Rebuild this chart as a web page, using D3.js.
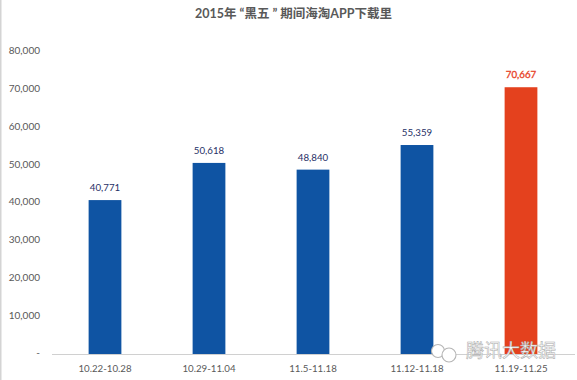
<!DOCTYPE html>
<html>
<head>
<meta charset="utf-8">
<script src="https://cdn.jsdelivr.net/npm/d3@7/dist/d3.min.js"></script>
<style>
  html, body { margin: 0; padding: 0; background: #fff; }
  svg { display: block; }
  text { font-family: Lato, "Noto Sans CJK SC", sans-serif; }
</style>
</head>
<body>
<script>
  var categories = ['10.22-10.28', '10.29-11.04', '11.5-11.18', '11.12-11.18', '11.19-11.25'];
  var values = [40771, 50618, 48840, 55359, 70667];
  var yTicks = [0, 10000, 20000, 30000, 40000, 50000, 60000, 70000, 80000];
  var titleText = '2015年 “黑五 ” 期间海淘APP下载里';
  var watermarkText = '腾讯大数据';

  var width = 577, height = 380;
  var svg = d3.select('body').append('svg').attr('width', width).attr('height', height);

  // grey edge on the left of the screenshot
  svg.append('rect').attr('x', 0).attr('y', 0).attr('width', 1.5).attr('height', height).attr('fill', '#d4d4d4');

  var x = d3.scaleBand().domain(categories).range([53, 573]).paddingInner(0.685).paddingOuter(0.3425);
  var y = d3.scaleLinear().domain([0, 80000]).range([354, 52]);

  svg.append('text')
    .attr('x', 293.5).attr('y', 18)
    .attr('text-anchor', 'middle')
    .attr('font-size', 12.5).attr('font-weight', 'bold').attr('fill', '#595959')
    .text(titleText);

  // y axis, no line, "-" for zero
  var yAxis = d3.axisLeft(y).tickValues(yTicks).tickSize(0).tickPadding(0)
    .tickFormat(function (d) { return d === 0 ? '-' : d3.format(',')(d); });
  var gy = svg.append('g').attr('transform', 'translate(40,-1.3)').call(yAxis);
  gy.select('.domain').remove();
  gy.selectAll('text').attr('font-size', 10).attr('fill', '#595959').style('font-family', 'Lato, sans-serif');

  svg.selectAll('rect.bar').data(values).enter().append('rect')
    .attr('class', 'bar')
    .attr('x', function (d, i) { return x(categories[i]); })
    .attr('y', function (d) { return y(d); })
    .attr('width', x.bandwidth())
    .attr('height', function (d) { return y(0) - y(d); })
    .attr('fill', function (d, i) { return i === 4 ? '#e4411e' : '#0f54a3'; });

  var xAxis = d3.axisBottom(x).tickSize(0).tickPadding(11.5);
  var gx = svg.append('g').attr('transform', 'translate(0,354)').call(xAxis);
  gx.select('.domain').attr('stroke', '#d0d0d0').attr('d', 'M52,0.5H575');
  gx.selectAll('text').attr('font-size', 9.7).attr('fill', '#595959').style('font-family', 'Lato, sans-serif');

  svg.selectAll('text.label').data(values).enter().append('text')
    .attr('class', 'label')
    .attr('x', function (d, i) { return x(categories[i]) + x.bandwidth() / 2; })
    .attr('y', function (d) { return y(d) - 9; })
    .attr('text-anchor', 'middle')
    .attr('font-size', 9.7)
    .attr('fill', function (d, i) { return i === 4 ? '#e8452a' : '#1f2f66'; })
    .attr('stroke', function (d, i) { return i === 4 ? '#e8452a' : 'none'; })
    .attr('stroke-width', 0.35)
    .text(d3.format(','));

  // watermark
  var wm = svg.append('g').attr('fill', 'none').attr('stroke', '#b5b5b5').attr('stroke-width', 1.1);
  wm.append('circle').attr('cx', 438).attr('cy', 351).attr('r', 6.5).attr('fill', '#fff');
  wm.append('circle').attr('cx', 449).attr('cy', 355).attr('r', 7).attr('fill', '#fff');
  svg.append('text')
    .attr('x', 466).attr('y', 356.5)
    .attr('font-size', 18)
    .attr('fill', '#fff').attr('stroke', '#a8a8a8').attr('stroke-width', 0.5)
    .style('font-family', '"Noto Sans CJK SC", sans-serif')
    .text(watermarkText);
</script>
</body>
</html>
